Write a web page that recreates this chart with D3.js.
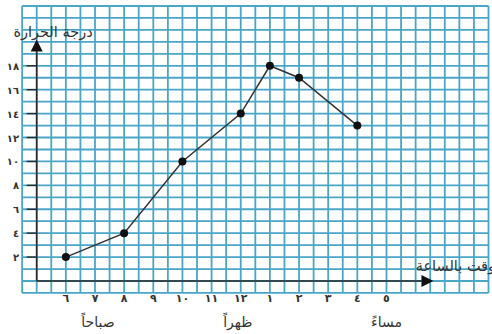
<!DOCTYPE html>
<html>
<head>
<meta charset="utf-8">
<script src="https://cdn.jsdelivr.net/npm/d3@7"></script>
<style>
  body { margin: 0; background: #fff; }
  svg { display: block; }
  text { font-family: "DejaVu Sans", sans-serif; fill: #333; }
</style>
</head>
<body>
<svg width="492" height="334"></svg>
<script>
var hours = [6, 8, 10, 12, 13, 14, 16];
var temps = [2, 4, 10, 14, 18, 17, 13];
var xTicks = [6, 7, 8, 9, 10, 11, 12, 13, 14, 15, 16, 17];
var xTickLabels = ['٦', '٧', '٨', '٩', '١٠', '١١', '١٢', '١', '٢', '٣', '٤', '٥'];
var yTicks = [2, 4, 6, 8, 10, 12, 14, 16, 18];
var yTickLabels = ['٢', '٤', '٦', '٨', '١٠', '١٢', '١٤', '١٦', '١٨'];
var periods = [{ h: 7.1, label: 'صباحاً' }, { h: 11.9, label: 'ظهراً' }, { h: 17, label: 'مساءً' }];

var GRID_COLOR = '#4aa6c6';

var svg = d3.select('svg');

// 29.15 px per hour, 11.95 px per degree, origin at (36.7, 281)
var x = d3.scaleLinear().domain([5, 20.5]).range([36.7, 488.5]);
var y = d3.scaleLinear().domain([0, 23]).range([281, 6]);

// grid paper
var grid = svg.append('g');
d3.range(4.5, 20.51, 0.5).forEach(function (h) {
  grid.append('line')
    .attr('x1', x(h)).attr('x2', x(h))
    .attr('y1', y(-1)).attr('y2', y(23))
    .attr('stroke', GRID_COLOR).attr('stroke-width', 1.8);
});
d3.range(-1, 23.01, 1).forEach(function (t) {
  grid.append('line')
    .attr('x1', x(4.5)).attr('x2', x(20.5))
    .attr('y1', y(t)).attr('y2', y(t))
    .attr('stroke', GRID_COLOR).attr('stroke-width', 1.8);
});

// axes
var axisColor = '#2a2a2a';
svg.append('line')
  .attr('x1', x(5)).attr('x2', x(5))
  .attr('y1', y(0)).attr('y2', y(19.2))
  .attr('stroke', axisColor).attr('stroke-width', 1.6);
svg.append('path')
  .attr('d', 'M' + x(5) + ',' + (y(19.2) - 12) + 'l-6,12h12z')
  .attr('fill', '#111');
svg.append('line')
  .attr('x1', x(5)).attr('x2', x(18.2))
  .attr('y1', y(0)).attr('y2', y(0))
  .attr('stroke', axisColor).attr('stroke-width', 1.6);
svg.append('path')
  .attr('d', 'M' + (x(18.2) + 12) + ',' + y(0) + 'l-12,-6v12z')
  .attr('fill', '#111');

// y ticks and labels
yTicks.forEach(function (t, i) {
  svg.append('line')
    .attr('x1', x(5) - 10).attr('x2', x(5))
    .attr('y1', y(t)).attr('y2', y(t))
    .attr('stroke', axisColor).attr('stroke-width', 1.4);
  svg.append('text')
    .attr('x', 19).attr('y', y(t) + 4)
    .attr('text-anchor', 'end')
    .attr('font-size', 10).attr('font-weight', 'bold')
    .text(yTickLabels[i]);
});

// x tick labels
xTicks.forEach(function (h, i) {
  svg.append('text')
    .attr('x', x(h)).attr('y', 302)
    .attr('text-anchor', 'middle')
    .attr('font-size', 11).attr('font-weight', 'bold')
    .text(xTickLabels[i]);
});

periods.forEach(function (p) {
  svg.append('text')
    .attr('x', x(p.h)).attr('y', 327)
    .attr('text-anchor', 'middle')
    .attr('font-size', 14)
    .text(p.label);
});

// axis titles (the x title runs off the right edge, as in the scan)
svg.append('text')
  .attr('x', 53).attr('y', 37)
  .attr('text-anchor', 'middle')
  .attr('font-size', 14.5)
  .text('درجة الحرارة');
svg.append('text')
  .attr('x', 504).attr('y', 271)
  .attr('direction', 'rtl')
  .attr('text-anchor', 'start')
  .attr('font-size', 14.5)
  .text('الوقت بالساعة');

// data line and points
var line = d3.line()
  .x(function (d, i) { return x(hours[i]); })
  .y(function (d) { return y(d); });
svg.append('path')
  .datum(temps)
  .attr('d', line)
  .attr('fill', 'none')
  .attr('stroke', '#333')
  .attr('stroke-width', 1.5);
svg.selectAll('circle.pt')
  .data(temps)
  .enter().append('circle')
  .attr('class', 'pt')
  .attr('cx', function (d, i) { return x(hours[i]); })
  .attr('cy', function (d) { return y(d); })
  .attr('r', 4)
  .attr('fill', '#111');
</script>
</body>
</html>
